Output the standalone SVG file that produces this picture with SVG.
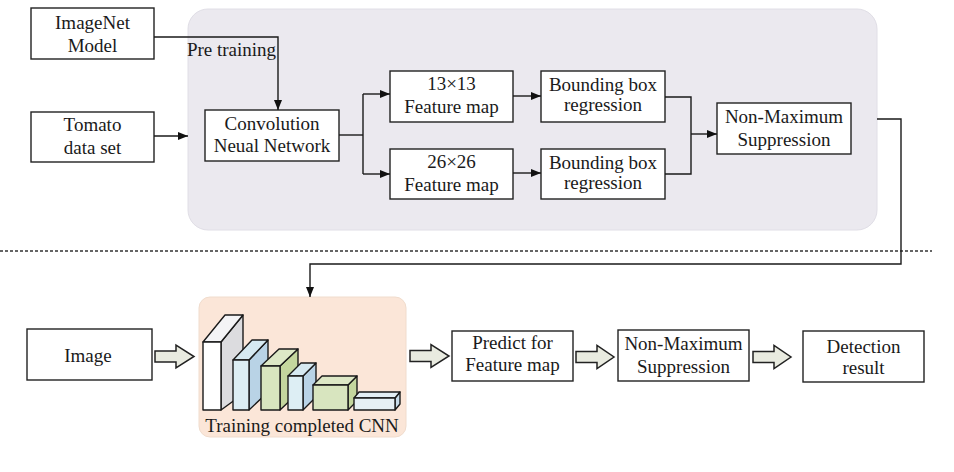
<svg xmlns="http://www.w3.org/2000/svg" width="954" height="472" viewBox="0 0 954 472">
<defs>
<marker id="arr" markerWidth="10" markerHeight="8" refX="10" refY="4" orient="auto" markerUnits="userSpaceOnUse">
<path d="M0,0 L10,4 L0,8 z" fill="#111"/>
</marker>
<style>
.box{fill:#fff;stroke:#222;stroke-width:1.4}
.t{font-family:"Liberation Serif","Times New Roman",serif;font-size:19px;fill:#1a1a1a;text-anchor:middle}
.ln{fill:none;stroke:#1a1a1a;stroke-width:1.4}
.ha{fill:#e9ebe0;stroke:#222;stroke-width:1.5;stroke-linejoin:miter}
.blk{stroke:#1a1a1a;stroke-width:1.4;stroke-linejoin:round}
</style>
</defs>
<rect width="954" height="472" fill="#fff"/>

<g id="training-panel">
<rect x="188" y="9" width="689" height="221" rx="20" fill="#ebe9ef" stroke="#e0dee6" stroke-width="1"/>
</g>
<g id="dashed-separator">
<line x1="0" y1="251" x2="932" y2="251" stroke="#333" stroke-width="1.3" stroke-dasharray="3,2"/>
</g>

<g id="imagenet">
<rect class="box" x="31" y="8" width="123" height="51"/>
<text class="t" x="92.5" y="29">ImageNet</text>
<text class="t" x="92.5" y="52">Model</text>
</g>
<g id="tomato">
<rect class="box" x="31" y="112" width="123" height="50"/>
<text class="t" x="92.5" y="131">Tomato</text>
<text class="t" x="92.5" y="154">data set</text>
</g>
<g id="pretraining-label">
<text class="t" x="231.5" y="56">Pre training</text>
</g>
<g id="cnn">
<rect class="box" x="205" y="110" width="134" height="51"/>
<text class="t" x="272" y="130">Convolution</text>
<text class="t" x="272" y="152">Neual Network</text>
</g>
<g id="fm13">
<rect class="box" x="390" y="71" width="123" height="51"/>
<text class="t" x="451.5" y="90">13×13</text>
<text class="t" x="451.5" y="113">Feature map</text>
</g>
<g id="fm26">
<rect class="box" x="390" y="149" width="123" height="50"/>
<text class="t" x="451.5" y="168">26×26</text>
<text class="t" x="451.5" y="191">Feature map</text>
</g>
<g id="bbox1">
<rect class="box" x="541" y="71" width="124" height="51"/>
<text class="t" x="603" y="91">Bounding box</text>
<text class="t" x="603" y="111">regression</text>
</g>
<g id="bbox2">
<rect class="box" x="541" y="149" width="124" height="50"/>
<text class="t" x="603" y="169">Bounding box</text>
<text class="t" x="603" y="189">regression</text>
</g>
<g id="nms1">
<rect class="box" x="717" y="103" width="134" height="51"/>
<text class="t" x="784" y="123">Non-Maximum</text>
<text class="t" x="784" y="146">Suppression</text>
</g>

<g id="image">
<rect class="box" x="27" y="329" width="125" height="51"/>
<text class="t" x="88" y="362">Image</text>
</g>
<g id="trained-cnn">
<rect x="199" y="297" width="207" height="140" rx="11" fill="#fbe6d8" stroke="#f0dccd" stroke-width="1"/>
<!-- block 1 -->
<polygon class="blk" points="221,342 243,315 243,394 221,410" fill="#dcdcdf"/>
<polygon class="blk" points="203,342 225,315 243,315 221,342" fill="#f4f4f6"/>
<rect class="blk" x="203" y="342" width="18" height="68" fill="#fff"/>
<!-- block 2 -->
<polygon class="blk" points="249,360 268,340 268,392 249,410" fill="#b9d3e6"/>
<polygon class="blk" points="233,360 252,340 268,340 249,360" fill="#d6e9f1"/>
<rect class="blk" x="233" y="360" width="16" height="50" fill="#ddeef4"/>
<!-- block 3 -->
<polygon class="blk" points="280,366 298,349 298,393 280,410" fill="#c4d69e"/>
<polygon class="blk" points="261,366 279,349 298,349 280,366" fill="#dde8c6"/>
<rect class="blk" x="261" y="366" width="19" height="44" fill="#d8e5bf"/>
<!-- block 4 -->
<polygon class="blk" points="303,376 316,363 316,397 303,410" fill="#b9d3e6"/>
<polygon class="blk" points="288,376 301,363 316,363 303,376" fill="#d6e9f1"/>
<rect class="blk" x="288" y="376" width="15" height="34" fill="#ddeef4"/>
<!-- block 5 -->
<polygon class="blk" points="348,385 357,376 357,401 348,410" fill="#c4d69e"/>
<polygon class="blk" points="313,385 322,376 357,376 348,385" fill="#dde8c6"/>
<rect class="blk" x="313" y="385" width="35" height="25" fill="#d8e5bf"/>
<!-- block 6 -->
<polygon class="blk" points="395,398 400,392 400,404 395,410" fill="#c8dcea"/>
<polygon class="blk" points="354,398 359,392 400,392 395,398" fill="#e3eef4"/>
<rect class="blk" x="354" y="398" width="41" height="12" fill="#e6f0f5"/>
<text class="t" x="302" y="432">Training completed CNN</text>
</g>
<g id="predict">
<rect class="box" x="452" y="331" width="121" height="50"/>
<text class="t" x="512.5" y="349">Predict for</text>
<text class="t" x="512.5" y="371">Feature map</text>
</g>
<g id="nms2">
<rect class="box" x="618" y="330" width="131" height="51"/>
<text class="t" x="683.5" y="350">Non-Maximum</text>
<text class="t" x="683.5" y="373">Suppression</text>
</g>
<g id="detection">
<rect class="box" x="803" y="331" width="121" height="51"/>
<text class="t" x="863.5" y="353">Detection</text>
<text class="t" x="863.5" y="374">result</text>
</g>

<g id="connectors">
<path class="ln" d="M154,37 H278 V110" marker-end="url(#arr)"/>
<path class="ln" d="M154,136 H188" marker-end="url(#arr)"/>
<path class="ln" d="M339,135 H363"/>
<path class="ln" d="M363,94 V174"/>
<path class="ln" d="M363,94 H390" marker-end="url(#arr)"/>
<path class="ln" d="M363,174 H390" marker-end="url(#arr)"/>
<path class="ln" d="M513,96 H541" marker-end="url(#arr)"/>
<path class="ln" d="M513,173 H541" marker-end="url(#arr)"/>
<path class="ln" d="M665,97 H691 V174 H665"/>
<path class="ln" d="M691,134 H717" marker-end="url(#arr)"/>
<path class="ln" d="M877,119 H901 V264 H310 V297" marker-end="url(#arr)"/>
<path class="ha" d="M155,351 H176 V345 L194,356.5 L176,368 V362 H155 Z"/>
<path class="ha" d="M410,350.5 H431 V344.5 L449,356 L431,367.5 V361.5 H410 Z"/>
<path class="ha" d="M576,351.5 H597 V345.5 L614,357 L597,368.5 V362.5 H576 Z"/>
<path class="ha" d="M753,351.5 H774 V345.5 L791,357 L774,368.5 V362.5 H753 Z"/>
</g>
</svg>
